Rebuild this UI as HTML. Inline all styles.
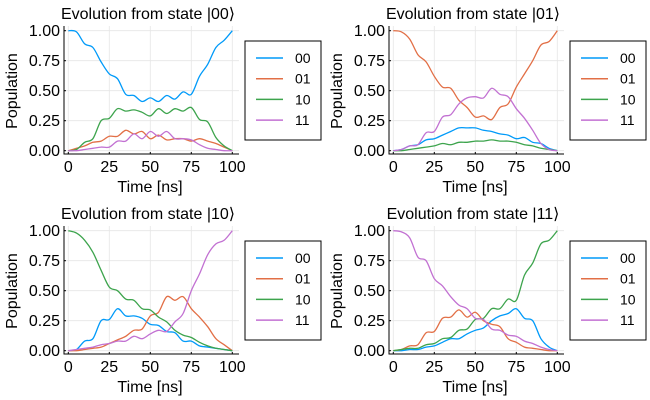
<!DOCTYPE html>
<html><head><meta charset="utf-8"><style>
body{margin:0;background:#fff}
svg{display:block;font-family:"Liberation Sans",sans-serif}
</style></head><body>
<svg id="c" width="650" height="400" viewBox="0 0 650 400"></svg>
<script>
const times=[0,5,10,15,20,25,30,35,40,45,50,55,60,65,70,75,80,85,90,95,100];
const seriesNames=["00","01","10","11"];
const colors=["#009af9","#e26f46","#3da44d","#c271d2"];
const yTicks=[0,0.25,0.5,0.75,1];
const yTickLabels=["0.00","0.25","0.50","0.75","1.00"];
const xTicks=[0,25,50,75,100];
const titles=["Evolution from state |00⟩","Evolution from state |01⟩","Evolution from state |10⟩","Evolution from state |11⟩"];
const p00_00=[1,0.99,0.89,0.86,0.74,0.64,0.6,0.47,0.46,0.41,0.44,0.41,0.46,0.43,0.49,0.47,0.62,0.72,0.86,0.92,1];
const p00_01=[0,0.02,0.04,0.07,0.08,0.12,0.12,0.17,0.14,0.16,0.1,0.13,0.09,0.1,0.1,0.08,0.1,0.08,0.06,0.03,0];
const p00_10=[0,0.01,0.07,0.1,0.25,0.27,0.35,0.33,0.34,0.32,0.29,0.35,0.31,0.35,0.33,0.36,0.26,0.24,0.11,0.04,0];
const p00_11=[0,0,0.01,0.02,0.03,0.03,0.08,0.08,0.14,0.1,0.16,0.12,0.16,0.1,0.1,0.09,0.05,0.02,0.01,0,0];
const p01_00=[0,0.01,0.04,0.05,0.09,0.1,0.13,0.16,0.19,0.19,0.19,0.17,0.16,0.14,0.13,0.1,0.11,0.07,0.06,0.02,0];
const p01_01=[1,0.99,0.93,0.8,0.74,0.62,0.53,0.52,0.42,0.36,0.28,0.29,0.26,0.36,0.39,0.53,0.64,0.75,0.88,0.91,1];
const p01_10=[0,0,0.01,0.02,0.03,0.04,0.06,0.05,0.07,0.07,0.08,0.08,0.09,0.08,0.08,0.07,0.05,0.04,0.02,0.01,0];
const p01_11=[0,0.01,0.04,0.05,0.15,0.16,0.28,0.3,0.39,0.44,0.45,0.44,0.52,0.47,0.45,0.35,0.27,0.17,0.06,0.01,0];
const p10_00=[0,0.01,0.08,0.1,0.25,0.26,0.35,0.29,0.29,0.27,0.22,0.21,0.16,0.15,0.08,0.08,0.04,0.03,0.02,0.01,0];
const p10_01=[0,0,0.01,0.02,0.03,0.06,0.09,0.12,0.17,0.18,0.29,0.32,0.45,0.42,0.45,0.35,0.28,0.2,0.1,0.05,0];
const p10_10=[1,0.98,0.92,0.82,0.67,0.53,0.5,0.43,0.42,0.35,0.34,0.28,0.24,0.17,0.13,0.11,0.07,0.04,0.02,0.01,0];
const p10_11=[0,0.01,0.02,0.03,0.05,0.06,0.08,0.08,0.12,0.1,0.14,0.17,0.16,0.24,0.31,0.5,0.64,0.8,0.89,0.92,1];
const p11_00=[0,0,0.01,0.01,0.03,0.04,0.07,0.1,0.1,0.14,0.17,0.19,0.25,0.29,0.31,0.35,0.27,0.25,0.1,0.03,0];
const p11_01=[0,0.01,0.04,0.05,0.15,0.16,0.27,0.28,0.34,0.28,0.32,0.25,0.22,0.2,0.1,0.07,0.03,0.02,0.01,0,0];
const p11_10=[0,0.01,0.02,0.02,0.05,0.06,0.1,0.11,0.17,0.18,0.26,0.27,0.35,0.35,0.43,0.42,0.63,0.73,0.89,0.92,1];
const p11_11=[1,0.99,0.94,0.78,0.75,0.6,0.54,0.45,0.38,0.35,0.27,0.26,0.18,0.17,0.13,0.12,0.08,0.06,0.03,0.01,0];
const panels=[[p00_00,p00_01,p00_10,p00_11],[p01_00,p01_01,p01_10,p01_11],[p10_00,p10_01,p10_10,p10_11],[p11_00,p11_01,p11_10,p11_11]];
const offs=[[0,0],[325,0],[0,200],[325,200]];
const NS="http://www.w3.org/2000/svg";
const svg=document.getElementById('c');
function mk(tag,attrs,parent){const e=document.createElementNS(NS,tag);for(const k in attrs)e.setAttribute(k,attrs[k]);parent.appendChild(e);return e;}
function path(pts){let d="M"+pts[0][0].toFixed(2)+","+pts[0][1].toFixed(2);
for(let i=0;i<pts.length-1;i++){const p0=pts[Math.max(i-1,0)],p1=pts[i],p2=pts[i+1],p3=pts[Math.min(i+2,pts.length-1)];
d+=" C"+(p1[0]+(p2[0]-p0[0])/6).toFixed(2)+","+(p1[1]+(p2[1]-p0[1])/6).toFixed(2)+" "+(p2[0]-(p3[0]-p1[0])/6).toFixed(2)+","+(p2[1]-(p3[1]-p1[1])/6).toFixed(2)+" "+p2[0].toFixed(2)+","+p2[1].toFixed(2);}
return d;}
panels.forEach((pan,pi)=>{
const dx=offs[pi][0],dy=offs[pi][1];
const X=t=>dx+68.3+t*1.64;
const Y=v=>dy+150.7-v*120;
const g=mk('g',{},svg);


yTicks.forEach((v,i)=>{
const l=mk('line',{x1:dx+64,x2:dx+239,y1:Y(v),y2:Y(v),stroke:'#e6e6e6','stroke-width':0.8},g);


const t=mk('text',{x:dx+60,y:Y(v)+5.5,'text-anchor':'end','font-size':16,fill:'#000'},g);
t.textContent=yTickLabels[i];


mk('line',{x1:dx+64,x2:dx+66,y1:Y(v),y2:Y(v),stroke:'#000'},g);
});
xTicks.forEach(v=>{
const l=mk('line',{x1:X(v),x2:X(v),y1:dy+26,y2:dy+154,stroke:'#e6e6e6','stroke-width':0.8},g);


const t=mk('text',{x:X(v),y:dy+172,'text-anchor':'middle','font-size':16,fill:'#000'},g);
t.textContent=String(v);


mk('line',{x1:X(v),x2:X(v),y1:dy+154,y2:dy+152,stroke:'#000'},g);
});
const ax=mk('path',{d:`M${dx+64},${dy+26}V${dy+154}H${dx+239}`,fill:'none',stroke:'#000','stroke-width':1},g);


pan.forEach((vals,si)=>{
const p=mk('path',{d:path(vals.map((v,i)=>[X(times[i]),Y(v)])),fill:'none',stroke:colors[si],'stroke-width':1.3},g);


});
const ti=mk('text',{x:dx+148,y:dy+19,'text-anchor':'middle','font-size':16},g);
ti.textContent=titles[pi];


const xl=mk('text',{x:dx+150,y:dy+192,'text-anchor':'middle','font-size':16},g);
xl.textContent="Time [ns]";


const yl=mk('text',{x:0,y:0,'text-anchor':'middle','font-size':16,transform:`translate(${dx+17},${dy+91}) rotate(-90)`},g);
yl.textContent="Population";


const lg=mk('g',{},g);


mk('rect',{x:dx+245,y:dy+41,width:76,height:99,fill:'#fff',stroke:'#000','stroke-width':1},lg);
seriesNames.forEach((n,si)=>{
const yy=dy+58+si*20.7;
const le=mk('g',{},lg);


mk('line',{x1:dx+256,x2:dx+283,y1:yy,y2:yy,stroke:colors[si],'stroke-width':1.5},le);
const t=mk('text',{x:dx+295,y:yy+5,'font-size':14},le);
t.textContent=n;
});
});
</script>
</body></html>
